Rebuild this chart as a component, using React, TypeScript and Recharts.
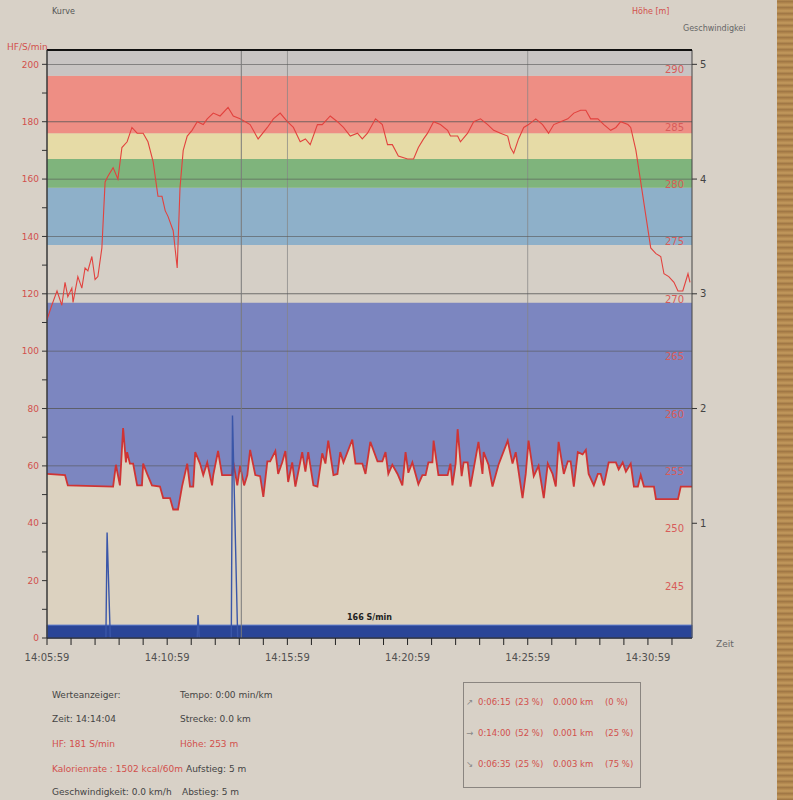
import React from 'react';
import {
  ComposedChart, Line, Area, XAxis, YAxis, ReferenceArea, ReferenceLine,
} from 'recharts';

// Zeit in Sekunden nach 14:05:59
const T_END = 1610;
const MINUTE_TICKS = [
  0, 60, 120, 180, 240, 300, 360, 420, 480, 540, 600, 660, 720, 780, 840, 900,
  960, 1020, 1080, 1140, 1200, 1260, 1320, 1380, 1440, 1500, 1560,
];
const TIME_LABEL_TICKS = [0, 300, 600, 900, 1200, 1500];
const TIME_LABELS = ['14:05:59', '14:10:59', '14:15:59', '14:20:59', '14:25:59', '14:30:59'];
const V_GRID = [600, 1200];
const CURSOR_T = 485;

const HF_TICKS = [0, 10, 20, 30, 40, 50, 60, 70, 80, 90, 100, 110, 120, 130, 140, 150, 160, 170, 180, 190, 200];
const HF_GRID = [20, 40, 60, 80, 100, 120, 140, 160, 180, 200];
const ALT_LABELS = [245, 250, 255, 260, 265, 270, 275, 280, 285, 290];
const SPEED_TICKS = [1, 2, 3, 4, 5];

// Herzfrequenz-Zonen (S/min)
const ZONE_BOUNDS = [0, 117, 137, 157, 167, 176, 196, 205];

// Herzfrequenz
const HR_TIME = [
  0, 12, 25, 37, 45, 52, 62, 65, 77, 87, 95, 102, 112, 120, 127, 137, 145, 152, 165, 177,
  187, 200, 212, 225, 240, 252, 265, 277, 287, 295, 302, 315, 325, 332, 340, 350, 362, 375, 390, 400,
  415, 432, 452, 465, 482, 507, 527, 550, 565, 582, 600, 615, 632, 645, 657, 675, 687, 707, 725, 740,
  757, 775, 787, 800, 820, 837, 850, 862, 877, 900, 915, 927, 940, 950, 965, 982, 1000, 1007, 1025, 1032,
  1050, 1065, 1082, 1100, 1115, 1132, 1150, 1157, 1165, 1177, 1190, 1202, 1220, 1237, 1252, 1265, 1282, 1300, 1315, 1332,
  1345, 1357, 1375, 1390, 1407, 1420, 1432, 1450, 1457, 1470, 1482, 1495, 1507, 1520, 1532, 1540, 1552, 1565, 1575, 1587,
  1600, 1605,
];
const HR_BPM = [
  111, 116, 121, 116, 124, 119, 122, 117, 126, 122, 129, 128, 133, 125, 126, 136, 159, 161, 164, 160,
  171, 173, 178, 176, 176, 173, 166, 154, 154, 149, 147, 142, 129, 157, 170, 175, 177, 180, 179, 181,
  183, 182, 185, 182, 181, 179, 174, 178, 181, 183, 180, 178, 173, 174, 172, 179, 179, 182, 180, 178,
  175, 176, 174, 176, 181, 179, 172, 172, 168, 167, 167, 171, 174, 176, 180, 179, 177, 175, 175, 173,
  176, 180, 181, 179, 177, 176, 175, 171, 169, 174, 178, 179, 181, 179, 176, 179, 180, 181, 183, 184,
  184, 181, 181, 179, 177, 178, 180, 179, 178, 170, 159, 147, 136, 134, 133, 127, 126, 124, 121, 121,
  127, 124,
];

// Höhe [m]
const ALT_TIME = [
  0, 45, 52, 165, 172, 182, 190, 197, 200, 207, 215, 225, 237, 240, 250, 262, 282, 290, 307, 315,
  327, 337, 350, 357, 365, 370, 382, 390, 400, 412, 415, 427, 437, 462, 465, 475, 482, 492, 500, 507,
  520, 532, 540, 550, 557, 570, 577, 587, 595, 602, 612, 620, 637, 645, 652, 665, 675, 687, 695, 702,
  715, 725, 732, 740, 762, 770, 787, 795, 807, 825, 837, 845, 852, 862, 875, 887, 895, 902, 912, 927,
  937, 945, 952, 962, 965, 977, 1000, 1007, 1012, 1020, 1025, 1035, 1040, 1050, 1057, 1077, 1087, 1090, 1102, 1112,
  1127, 1150, 1162, 1170, 1187, 1195, 1202, 1215, 1227, 1240, 1250, 1262, 1270, 1277, 1290, 1300, 1307, 1315, 1325, 1337,
  1345, 1352, 1365, 1375, 1382, 1390, 1402, 1420, 1427, 1437, 1445, 1457, 1465, 1475, 1482, 1490, 1515, 1520, 1575, 1582,
  1610,
];
const ALT_M = [
  254.3, 254.2, 253.3, 253.2, 255.1, 253.3, 258.3, 255.3, 256.2, 255.2, 255.2, 253.3, 253.3, 255.2, 254.3, 253.3, 253.2, 252.2, 252.2, 251.2,
  251.2, 253.2, 255.2, 253.2, 253.2, 256.2, 255.2, 254.2, 255.3, 253.3, 254.2, 256.3, 254.2, 254.2, 255.3, 253.3, 255.0, 253.3, 254.2, 256.4,
  254.2, 254.1, 252.3, 255.4, 255.4, 256.3, 254.3, 255.3, 256.3, 253.6, 255.3, 253.2, 256.2, 254.5, 256.2, 253.3, 253.2, 256.1, 255.2, 257.2,
  254.2, 254.3, 256.2, 255.3, 257.3, 255.2, 255.2, 254.3, 257.1, 255.4, 255.4, 256.2, 254.3, 255.1, 254.3, 253.3, 256.2, 254.4, 255.3, 253.4,
  254.2, 254.2, 255.3, 255.3, 257.2, 254.2, 254.2, 255.2, 253.3, 255.2, 258.2, 254.1, 255.3, 255.3, 253.2, 257.1, 254.3, 256.2, 255.1, 253.2,
  255.1, 257.2, 255.2, 256.2, 252.2, 254.3, 257.2, 254.1, 255.0, 252.2, 255.2, 254.3, 253.2, 257.1, 254.3, 255.4, 255.4, 253.2, 256.2, 256.0,
  256.4, 254.3, 253.3, 254.3, 254.3, 253.3, 255.3, 255.3, 254.7, 255.3, 254.5, 255.2, 253.2, 253.2, 254.2, 253.2, 253.2, 252.1, 252.1, 253.2,
  253.2,
];

// Geschwindigkeit [km/h]
const SPD_TIME = [0, 147, 150, 158, 375, 377, 380, 460, 463, 476, 1610];
const SPD_KMH = [0, 0, 0.92, 0, 0, 0.2, 0, 0, 1.94, 0, 0];

const ZONES_TEXT = [
  ['0:06:15', '(23 %)', '0.000 km', '(0 %)'],
  ['0:14:00', '(52 %)', '0.001 km', '(25 %)'],
  ['0:06:35', '(25 %)', '0.003 km', '(75 %)'],
];
const ZONE_ICONS = ['↗', '→', '↘'];

const hrData = HR_TIME.map((t, i) => ({ t, hf: HR_BPM[i] }));
const altData = ALT_TIME.map((t, i) => ({ t, alt: ALT_M[i] }));
const spdData = SPD_TIME.map((t, i) => ({ t, v: SPD_KMH[i] }));

const ZONE_COLORS = ['#7c86c0', '#d5cfc6', '#8eb0c9', '#7fb47c', '#e6dba6', '#ee8e84', '#c8c4c3'];
const RED = '#d2504c';
const FONT = '"DejaVu Sans", sans-serif';

const txt = (left: number, top: number, color: string, size = 9): React.CSSProperties => ({
  position: 'absolute', left, top, color, fontSize: size, fontFamily: FONT, whiteSpace: 'nowrap',
  lineHeight: '12px',
});

export default function App() {
  return (
    <div style={{
      position: 'absolute', left: 0, top: 0, width: 793, height: 800,
      background: '#d8d1c7', overflow: 'hidden',
    }}>
      <div style={{
        position: 'absolute', left: 777, top: 0, width: 16, height: 800,
        background: 'repeating-linear-gradient(0deg, #9a7141 0px, #c39a5d 3px, #a77c47 6px)',
      }} />

      <div style={txt(52, 6, '#555', 8)}>Kurve</div>
      <div style={txt(632, 6, RED, 8)}>Höhe [m]</div>
      <div style={txt(683, 23, '#666', 8)}>Geschwindigkei</div>
      <div style={txt(7, 41, RED, 9)}>HF/S/min</div>
      <div style={txt(716, 638, '#666', 9)}>Zeit</div>

      <div style={{ position: 'absolute', left: 0, top: 0 }}>
        <ComposedChart
          width={793}
          height={680}
          margin={{ top: 50, right: 71, bottom: 12, left: 17 }}
        >
          <XAxis
            dataKey="t"
            type="number"
            domain={[0, T_END]}
            ticks={MINUTE_TICKS}
            tickFormatter={(v: number) => {
              const i = TIME_LABEL_TICKS.indexOf(v);
              return i >= 0 ? TIME_LABELS[i] : '';
            }}
            tick={{ fontSize: 10, fill: '#505050', fontFamily: FONT }}
            tickSize={7}
            tickMargin={9}
            height={30}
            stroke="#222"
            allowDataOverflow
          />
          <YAxis
            yAxisId="hf"
            domain={[0, 205]}
            ticks={HF_TICKS}
            tickFormatter={(v: number) => (v % 20 === 0 ? String(v) : '')}
            tick={{ fontSize: 9, fill: RED, fontFamily: FONT }}
            tickSize={5}
            tickMargin={3}
            width={30}
            stroke="#333"
            allowDataOverflow
          />
          <YAxis
            yAxisId="spd"
            orientation="right"
            domain={[0, 5.125]}
            ticks={SPEED_TICKS}
            tick={{ fontSize: 10, fill: '#444', fontFamily: FONT }}
            tickSize={5}
            tickMargin={3}
            axisLine={false}
            width={30}
            stroke="#333"
            allowDataOverflow
          />
          <YAxis yAxisId="alt" orientation="right" domain={[240, 291.25]} hide width={0} allowDataOverflow />

          {ZONE_COLORS.map((c, i) => (
            <ReferenceArea
              key={`z${i}`}
              yAxisId="hf"
              x1={0}
              x2={T_END}
              y1={ZONE_BOUNDS[i]}
              y2={ZONE_BOUNDS[i + 1]}
              fill={c}
              fillOpacity={1}
              stroke="none"
            />
          ))}

          {/* Gitterlinien als schmale Flächen, damit die Höhenfläche sie verdeckt */}
          {V_GRID.map(t => (
            <ReferenceArea key={`v${t}`} yAxisId="hf" x1={t - 1} x2={t + 1} y1={0} y2={205}
              fill="#858585" fillOpacity={0.9} stroke="none" />
          ))}
          {HF_GRID.map(v => (
            <ReferenceArea key={`h${v}`} yAxisId="hf" x1={0} x2={T_END} y1={v - 0.15} y2={v + 0.15}
              fill="#555" fillOpacity={0.8} stroke="none" />
          ))}

          <Area
            yAxisId="alt"
            data={altData}
            dataKey="alt"
            type="linear"
            stroke="#cf3434"
            strokeWidth={1.8}
            fill="#dcd2c0"
            fillOpacity={1}
            baseValue={240}
            isAnimationActive={false}
          />

          <Line
            yAxisId="spd"
            data={spdData}
            dataKey="v"
            type="linear"
            stroke="#3a56a8"
            strokeWidth={1.4}
            dot={false}
            isAnimationActive={false}
          />

          <Line
            yAxisId="hf"
            data={hrData}
            dataKey="hf"
            type="linear"
            stroke="#e2423e"
            strokeWidth={1.1}
            dot={false}
            isAnimationActive={false}
          />

          <ReferenceLine yAxisId="hf" x={CURSOR_T} stroke="#7a7a7a" strokeWidth={1} />

          {ALT_LABELS.map(a => (
            <ReferenceLine
              key={`a${a}`}
              yAxisId="alt"
              y={a}
              stroke="none"
              label={(p: any) => {
                const vb = p.viewBox || {};
                return (
                  <text
                    x={(vb.x ?? 0) + (vb.width ?? 0) - 8}
                    y={(vb.y ?? 0) + 9}
                    textAnchor="end"
                    fontSize={10}
                    fontFamily={FONT}
                    fill="#d85c5a"
                  >
                    {a}
                  </text>
                );
              }}
            />
          ))}

          <ReferenceArea
            yAxisId="hf"
            x1={0}
            x2={T_END}
            y1={0}
            y2={4.5}
            fill="#2a4597"
            fillOpacity={1}
            stroke="#5f7ccc"
            strokeWidth={1}
            label={{ value: '166 S/min', position: 'top', fontSize: 8, fontWeight: 700, fill: '#222', fontFamily: FONT }}
          />

          <ReferenceArea
            yAxisId="hf"
            x1={0}
            x2={T_END}
            y1={0}
            y2={205}
            fill="none"
            stroke="#444"
            strokeWidth={1}
          />
          <ReferenceLine yAxisId="hf" y={205} stroke="#111" strokeWidth={2} />
        </ComposedChart>
      </div>

      <div style={txt(52, 689, '#444')}>Werteanzeiger:</div>
      <div style={txt(52, 713, '#444')}>Zeit: 14:14:04</div>
      <div style={txt(52, 738, RED)}>HF: 181 S/min</div>
      <div style={txt(52, 763, RED)}>Kalorienrate : 1502 kcal/60m</div>
      <div style={txt(52, 786, '#444')}>Geschwindigkeit: 0.0 km/h</div>

      <div style={txt(180, 689, '#444')}>Tempo: 0:00 min/km</div>
      <div style={txt(180, 713, '#444')}>Strecke: 0.0 km</div>
      <div style={txt(180, 738, RED)}>Höhe: 253 m</div>
      <div style={txt(186, 763, '#444')}>Aufstieg: 5 m</div>
      <div style={txt(182, 786, '#444')}>Abstieg: 5 m</div>

      <div style={{
        position: 'absolute', left: 463, top: 682, width: 178, height: 106,
        border: '1px solid #8a8580', boxSizing: 'border-box',
      }} />
      {ZONES_TEXT.map((row, i) => (
        <div key={i} style={{ ...txt(466, 696 + i * 31, RED, 8.5), display: 'flex' }}>
          <span style={{ color: '#888', width: 12 }}>{ZONE_ICONS[i]}</span>
          <span style={{ width: 37 }}>{row[0]}</span>
          <span style={{ width: 38 }}>{row[1]}</span>
          <span style={{ width: 52 }}>{row[2]}</span>
          <span>{row[3]}</span>
        </div>
      ))}
    </div>
  );
}
